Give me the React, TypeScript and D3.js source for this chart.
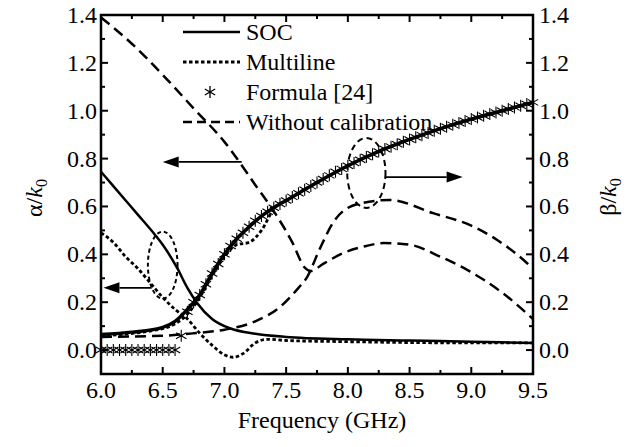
import React from "react";
import * as d3 from "d3";

// ---- data ----
const socAlphaF = [6.0, 6.1, 6.2, 6.3, 6.44, 6.5, 6.62, 6.7, 6.78, 6.9, 7.05, 7.25, 7.5, 8.0, 8.5, 9.0, 9.5];
const socAlphaV = [0.745, 0.685, 0.625, 0.565, 0.48, 0.44, 0.34, 0.26, 0.196, 0.13, 0.09, 0.068, 0.055, 0.045, 0.04, 0.035, 0.03];

const socBetaF = [6.0, 6.25, 6.5, 6.6, 6.7, 6.8, 6.9, 7.0, 7.1, 7.2, 7.3, 7.4, 7.5, 7.75, 8.0, 8.25, 8.5, 8.75, 9.0, 9.25, 9.5];
const socBetaV = [0.065, 0.075, 0.095, 0.12, 0.17, 0.23, 0.32, 0.4, 0.465, 0.515, 0.56, 0.595, 0.625, 0.7, 0.77, 0.83, 0.88, 0.925, 0.965, 1.0, 1.035];

const mlAlphaF = [6.0, 6.1, 6.2, 6.3, 6.4, 6.5, 6.6, 6.7, 6.8, 6.9, 7.0, 7.07, 7.15, 7.25, 7.35, 7.5, 8.0, 9.0, 9.5];
const mlAlphaV = [0.49, 0.45, 0.39, 0.34, 0.28, 0.22, 0.17, 0.13, 0.07, 0.02, -0.02, -0.03, -0.015, 0.03, 0.045, 0.04, 0.035, 0.03, 0.03];

const mlBetaF = [6.0, 6.5, 6.6, 6.7, 6.8, 6.9, 7.0, 7.1, 7.2, 7.3, 7.4, 7.5, 7.75, 8.0, 8.25, 8.5, 8.75, 9.0, 9.25, 9.5];
const mlBetaV = [0.06, 0.09, 0.11, 0.15, 0.22, 0.31, 0.39, 0.44, 0.45, 0.5, 0.59, 0.625, 0.7, 0.77, 0.83, 0.88, 0.925, 0.965, 1.0, 1.035];

const formulaF = d3.range(0, 71).map((i) => +(6 + i * 0.05).toFixed(2));
const formulaV = [
  0, 0, 0, 0, 0, 0, 0, 0, 0, 0, 0, 0, 0,
  0.06, 0.16, 0.2, 0.23, 0.275, 0.32, 0.36, 0.4, 0.435, 0.465, 0.49, 0.515, 0.54, 0.56, 0.578, 0.595, 0.61,
  0.625, 0.64, 0.655, 0.67, 0.685, 0.7, 0.715, 0.73, 0.745, 0.757, 0.77, 0.782, 0.795, 0.807, 0.818, 0.83,
  0.84, 0.85, 0.86, 0.87, 0.88, 0.889, 0.898, 0.907, 0.916, 0.925, 0.933, 0.941, 0.949, 0.957, 0.965,
  0.972, 0.979, 0.986, 0.993, 1.0, 1.007, 1.014, 1.021, 1.028, 1.035,
];

const woAlphaF = [6.0, 6.25, 6.5, 6.75, 7.0, 7.25, 7.43, 7.55, 7.65, 7.7, 7.8, 7.96, 8.15, 8.29, 8.5, 8.75, 8.97, 9.25, 9.5];
const woAlphaV = [1.39, 1.28, 1.15, 1.01, 0.87, 0.69, 0.556, 0.45, 0.345, 0.33, 0.36, 0.405, 0.435, 0.447, 0.44, 0.39, 0.334, 0.24, 0.13];

const woBetaF = [6.0, 6.5, 6.75, 7.0, 7.25, 7.45, 7.6, 7.67, 7.77, 7.89, 8.08, 8.34, 8.69, 9.0, 9.21, 9.45, 9.5];
const woBetaV = [0.055, 0.06, 0.07, 0.085, 0.12, 0.18, 0.26, 0.305, 0.42, 0.54, 0.61, 0.627, 0.572, 0.52, 0.46, 0.364, 0.34];

const xTicks = [6.0, 6.5, 7.0, 7.5, 8.0, 8.5, 9.0, 9.5];
const yTicks = [0.0, 0.2, 0.4, 0.6, 0.8, 1.0, 1.2, 1.4];
const legendLabels = ["SOC", "Multiline", "Formula [24]", "Without calibration"];

// ---- layout ----
const W = 639, H = 447;
const L = 101, R = 533, T = 15, B = 374;
const FONT = '"Liberation Serif", "Times New Roman", Times, "DejaVu Serif", serif';

const x = d3.scaleLinear().domain([6, 9.5]).range([L, R]);
const y = d3.scaleLinear().domain([-0.1, 1.4]).range([B, T]);

const line = d3
  .line<[number, number]>()
  .x((d) => x(d[0]))
  .y((d) => y(d[1]))
  .curve(d3.curveMonotoneX);

const zip = (f: number[], v: number[]) => f.map((ff, i) => [ff, v[i]] as [number, number]);

function star(cx: number, cy: number, r: number) {
  const c = Math.cos(Math.PI / 6) * r, s = Math.sin(Math.PI / 6) * r;
  return `M${cx},${cy - r}L${cx},${cy + r}M${cx - c},${cy - s}L${cx + c},${cy + s}M${cx - c},${cy + s}L${cx + c},${cy - s}`;
}

function Arrow({ x1, x2, yy }: { x1: number; x2: number; yy: number }) {
  const dir = Math.sign(x2 - x1);
  const hl = 16, hw = 5.5;
  return (
    <g>
      <line x1={x1} y1={yy} x2={x2 - dir * hl} y2={yy} stroke="#000" strokeWidth={1.8} />
      <path d={`M${x2},${yy}L${x2 - dir * hl},${yy - hw}L${x2 - dir * hl},${yy + hw}Z`} fill="#000" />
    </g>
  );
}

const txt: React.CSSProperties = { fontFamily: FONT };

export default function App() {
  const xMinor = d3.range(6.25, 9.5, 0.5);
  const yMinor = d3.range(0.1, 1.4, 0.2);
  const dash = "11,6";
  const dot = "3.5,2.5";
  return (
    <svg width={W} height={H} style={{ position: "absolute", left: 0, top: 0, background: "#fff", fontFamily: FONT }}>
      <rect width={W} height={H} fill="#fff" />
      {/* curves */}
      <g fill="none" stroke="#000" strokeWidth={2.5}>
        <path d={line(zip(woAlphaF, woAlphaV))!} strokeDasharray={dash} />
        <path d={line(zip(woBetaF, woBetaV))!} strokeDasharray={dash} />
        <path d={line(zip(mlAlphaF, mlAlphaV))!} strokeDasharray={dot} strokeWidth={2.8} />
        <path d={line(zip(mlBetaF, mlBetaV))!} strokeDasharray={dot} strokeWidth={2.8} />
        <path d={line(zip(socAlphaF, socAlphaV))!} />
        <path d={line(zip(socBetaF, socBetaV))!} strokeWidth={3.5} />
      </g>
      <g stroke="#000" strokeWidth={1.1} fill="none">
        {formulaF.map((f, i) => (
          <path key={i} d={star(x(f), y(formulaV[i]), 6)} />
        ))}
      </g>
      {/* annotations */}
      <ellipse cx={x(6.5)} cy={y(0.355)} rx={x(6.12) - x(6)} ry={y(0) - y(0.14)} fill="none" stroke="#000" strokeWidth={2} strokeDasharray="4,3" />
      <ellipse cx={x(8.15)} cy={y(0.74)} rx={x(6.155) - x(6)} ry={y(0) - y(0.146)} fill="none" stroke="#000" strokeWidth={2} strokeDasharray="6,4" />
      <Arrow x1={x(7.14)} x2={x(6.5)} yy={y(0.786)} />
      <Arrow x1={x(6.41)} x2={x(6.02)} yy={y(0.26)} />
      <Arrow x1={x(8.3)} x2={x(8.93)} yy={y(0.723)} />
      {/* frame */}
      <rect x={L} y={T} width={R - L} height={B - T} fill="none" stroke="#000" strokeWidth={2.5} />
      {/* ticks */}
      <g stroke="#000" strokeWidth={2}>
        {xTicks.map((t) => (
          <g key={"x" + t}>
            <line x1={x(t)} x2={x(t)} y1={B} y2={B - 7} />
            <line x1={x(t)} x2={x(t)} y1={T} y2={T + 7} />
          </g>
        ))}
        {xMinor.map((t) => (
          <g key={"xm" + t}>
            <line x1={x(t)} x2={x(t)} y1={B} y2={B - 4} />
            <line x1={x(t)} x2={x(t)} y1={T} y2={T + 4} />
          </g>
        ))}
        {yTicks.map((t) => (
          <g key={"y" + t}>
            <line x1={L} x2={L + 7} y1={y(t)} y2={y(t)} />
            <line x1={R} x2={R - 7} y1={y(t)} y2={y(t)} />
          </g>
        ))}
        {yMinor.map((t) => (
          <g key={"ym" + t}>
            <line x1={L} x2={L + 4} y1={y(t)} y2={y(t)} />
            <line x1={R} x2={R - 4} y1={y(t)} y2={y(t)} />
          </g>
        ))}
      </g>
      {/* tick labels */}
      <g fontSize={24} fill="#000">
        {xTicks.map((t) => (
          <text key={"xl" + t} style={txt} x={x(t)} y={B + 16} textAnchor="middle" dominantBaseline="central">
            {t.toFixed(1)}
          </text>
        ))}
        {yTicks.map((t) => (
          <text key={"yl" + t} style={txt} x={L - 4} y={y(t)} textAnchor="end" dominantBaseline="central">
            {t.toFixed(1)}
          </text>
        ))}
        {yTicks.map((t) => (
          <text key={"yr" + t} style={txt} x={R + 6} y={y(t)} textAnchor="start" dominantBaseline="central">
            {t.toFixed(1)}
          </text>
        ))}
      </g>
      {/* axis titles */}
      <text style={txt} x={322} y={428} fontSize={24} textAnchor="middle">Frequency (GHz)</text>
      <text style={txt} transform={`translate(42,198) rotate(-90)`} fontSize={24} textAnchor="middle">
        α/<tspan fontStyle="italic">k</tspan>
        <tspan fontSize={16} dy={5}>0</tspan>
      </text>
      <text style={txt} transform={`translate(616,197) rotate(-90)`} fontSize={24} textAnchor="middle">
        β/<tspan fontStyle="italic">k</tspan>
        <tspan fontSize={16} dy={5}>0</tspan>
      </text>
      {/* legend */}
      <g fontSize={24}>
        <line x1={183} x2={240} y1={32} y2={32} stroke="#000" strokeWidth={2.5} />
        <line x1={183} x2={240} y1={62} y2={62} stroke="#000" strokeWidth={2.8} strokeDasharray={dot} />
        <path d={star(210, 92, 6)} stroke="#000" strokeWidth={1.3} fill="none" />
        <line x1={183} x2={240} y1={122} y2={122} stroke="#000" strokeWidth={2.5} strokeDasharray="9,5" />
        {legendLabels.map((lab, i) => (
          <text key={lab} style={txt} x={246} y={32 + i * 30} dominantBaseline="central">
            {lab}
          </text>
        ))}
      </g>
    </svg>
  );
}
